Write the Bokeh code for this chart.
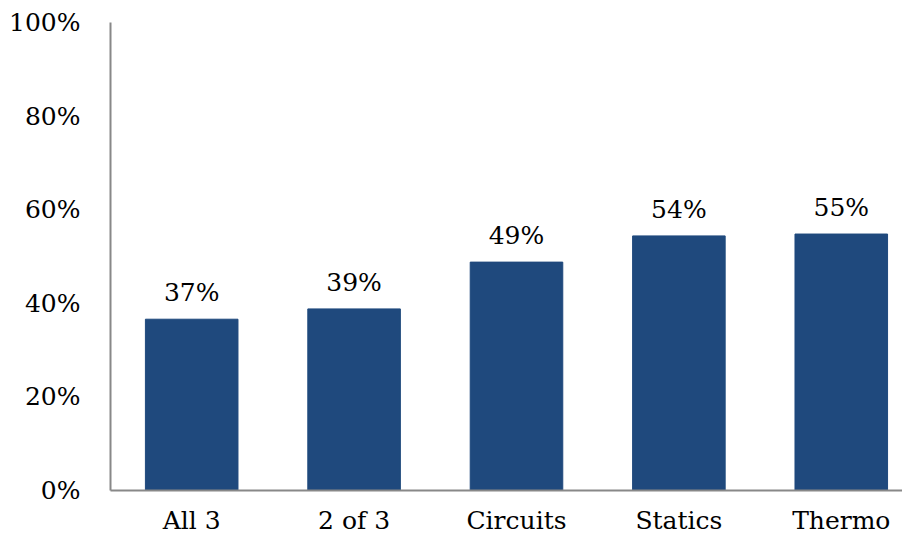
from bokeh.plotting import figure
from bokeh.models import Range1d, FixedTicker, ColumnDataSource, LabelSet
from bokeh.core.properties import value
from bokeh.embed import file_html
from bokeh.resources import INLINE

categories = ["All 3", "2 of 3", "Circuits", "Statics", "Thermo"]
values = [36.6, 38.8, 48.8, 54.4, 54.8]
labels = ["37%", "39%", "49%", "54%", "55%"]
y_ticks = [0, 20, 40, 60, 80, 100]

xs = [i + 0.5 for i in range(len(categories))]
src = ColumnDataSource(dict(x=xs, top=values, lab=labels))

FONT = "DejaVu Serif"
FSIZE = "25px"

p = figure(width=902, height=538, output_backend="svg", toolbar_location=None,
           x_range=Range1d(0, 4.877), y_range=Range1d(0, 100),
           min_border_left=110, min_border_right=0, min_border_top=22, min_border_bottom=48)
p.outline_line_color = None
p.grid.grid_line_color = None
p.background_fill_color = "white"

p.vbar(x="x", top="top", width=0.57, bottom=0, source=src,
       fill_color="#1F497D", line_color="#1F497D")

p.add_layout(LabelSet(x="x", y="top", text="lab", source=src, text_align="center",
                      text_baseline="alphabetic", y_offset=18,
                      text_font=value(FONT), text_font_size=FSIZE, text_color="black"))

p.xaxis.ticker = FixedTicker(ticks=xs)
p.xaxis.major_label_overrides = {x: c for x, c in zip(xs, categories)}
p.yaxis.ticker = FixedTicker(ticks=y_ticks)
p.yaxis.major_label_overrides = {v: f"{v}%" for v in y_ticks}

for ax in (p.xaxis, p.yaxis):
    ax.axis_line_color = "#888888"
    ax.axis_line_width = 2
    ax.major_tick_line_color = None
    ax.minor_tick_line_color = None
    ax.major_tick_out = 0
    ax.major_tick_in = 0
    ax.major_label_text_font = FONT
    ax.major_label_text_font_size = FSIZE
    ax.major_label_text_color = "black"
p.xaxis.major_label_standoff = 15
p.yaxis.major_label_standoff = 30

open("out.html", "w").write(file_html(p, INLINE))
